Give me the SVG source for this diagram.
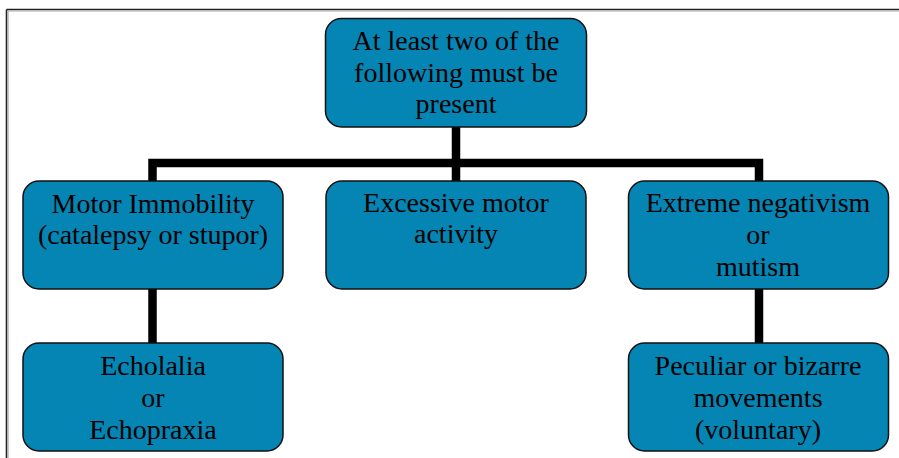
<svg xmlns="http://www.w3.org/2000/svg" width="899" height="458" viewBox="0 0 899 458">
<style>
.box{fill:#0585b4;stroke:#111;stroke-width:1.5}
.t{font-family:"Liberation Serif","Times New Roman",serif;font-size:28px;fill:#000;text-anchor:middle}
.conn{fill:none;stroke:#000;stroke-width:8.5;stroke-linejoin:miter;stroke-linecap:butt}
</style>
<rect width="899" height="458" fill="#fff"/>
<g id="frame">
<line x1="6.5" y1="9.5" x2="899" y2="9.5" stroke="#222" stroke-width="1.6"/>
<line x1="6.5" y1="9.5" x2="6.5" y2="458" stroke="#222" stroke-width="1.6"/>
<line x1="8" y1="11" x2="899" y2="11" stroke="#aaa" stroke-width="1.2"/>
<line x1="8" y1="11" x2="8" y2="458" stroke="#aaa" stroke-width="1.2"/>
</g>
<g id="connectors">
<path class="conn" d="M456 127 V181"/>
<path class="conn" d="M152.5 181 V163 H759 V181"/>
<path class="conn" d="M152.5 289 V343"/>
<path class="conn" d="M759 289 V343"/>
</g>
<g id="n-top">
<rect class="box" x="325.5" y="18.5" width="261" height="108.5" rx="16"/>
<text class="t" x="456" y="50">At least two of the</text>
<text class="t" x="456" y="81.5">following must be</text>
<text class="t" x="456" y="113">present</text>
</g>
<g id="n-motor">
<rect class="box" x="23" y="181" width="260" height="108" rx="16"/>
<text class="t" x="153" y="213">Motor Immobility</text>
<text class="t" x="153" y="244">(catalepsy or stupor)</text>
</g>
<g id="n-excessive">
<rect class="box" x="326" y="181" width="260" height="108" rx="16"/>
<text class="t" x="456" y="212">Excessive motor</text>
<text class="t" x="456" y="243">activity</text>
</g>
<g id="n-extreme">
<rect class="box" x="628.5" y="181" width="260" height="108" rx="16"/>
<text class="t" x="758" y="212">Extreme negativism</text>
<text class="t" x="758" y="244">or</text>
<text class="t" x="758" y="276">mutism</text>
</g>
<g id="n-echolalia">
<rect class="box" x="23" y="343" width="260" height="108" rx="16"/>
<text class="t" x="153" y="375">Echolalia</text>
<text class="t" x="153" y="407">or</text>
<text class="t" x="153" y="439">Echopraxia</text>
</g>
<g id="n-peculiar">
<rect class="box" x="628.5" y="343" width="260" height="108" rx="16"/>
<text class="t" x="758" y="375">Peculiar or bizarre</text>
<text class="t" x="758" y="407">movements</text>
<text class="t" x="758" y="439">(voluntary)</text>
</g>
</svg>
